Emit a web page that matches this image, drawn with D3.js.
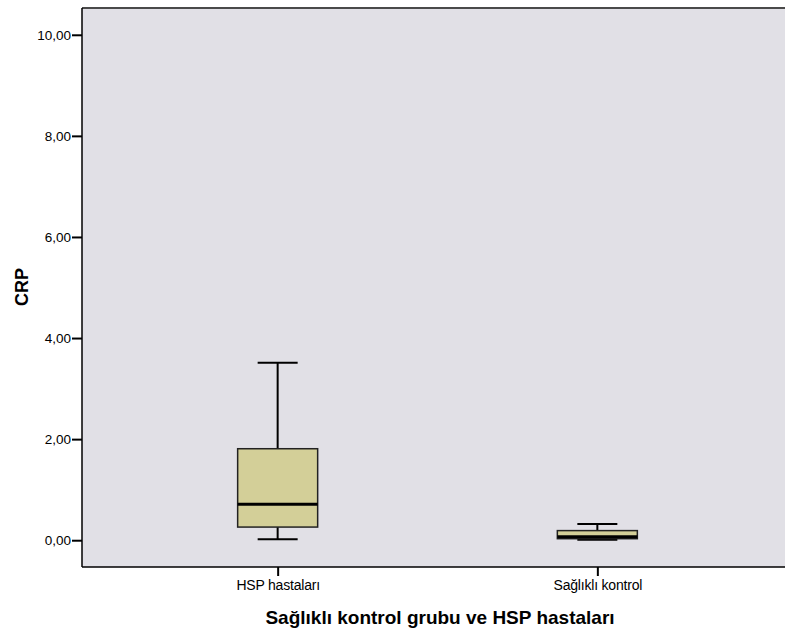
<!DOCTYPE html>
<html>
<head>
<meta charset="utf-8">
<script src="https://cdn.jsdelivr.net/npm/d3@7"></script>
<style>
  html, body { margin: 0; background: #fff; overflow: hidden; }
  svg { display: block; font-family: "Liberation Sans", Arial, sans-serif; }
</style>
</head>
<body>
<div id="chart"></div>
<script>
// groups and their box summaries
const groups = ['HSP hastaları', 'Sağlıklı kontrol'];
const whiskerLow = [0.02, 0.01];
const q1 = [0.26, 0.03];
const median = [0.71, 0.07];
const q3 = [1.81, 0.19];
const whiskerHigh = [3.51, 0.32];
const yTicks = [0, 2, 4, 6, 8, 10];

const width = 785;
const height = 635;
const margin = { top: 8, right: -8, bottom: 68, left: 82 };

const svg = d3.select('#chart').append('svg')
  .attr('width', width)
  .attr('height', height);

const x = d3.scalePoint()
  .domain(groups)
  .range([margin.left, width - margin.right])
  .padding(0.612);

const y = d3.scaleLinear()
  .domain([-0.53, 10.53])
  .range([height - margin.bottom, margin.top]);

const boxes = groups.map((g, i) => ({
  name: g, lo: whiskerLow[i], q1: q1[i], med: median[i], q3: q3[i], hi: whiskerHigh[i],
}));

// plot background, runs off the right edge like the original
svg.append('rect')
  .attr('x', margin.left)
  .attr('y', margin.top)
  .attr('width', width - margin.left)
  .attr('height', height - margin.bottom - margin.top)
  .attr('fill', '#e1e0e6');

// top frame line
svg.append('line')
  .attr('x1', margin.left).attr('x2', width)
  .attr('y1', margin.top).attr('y2', margin.top)
  .attr('stroke', '#4a4a4a')
  .attr('stroke-width', 2);

const boxW = 80;
const capW = 40;

let g = svg.append('g').selectAll('g')
  .data(boxes)
  .enter().append('g');

// whisker stems
g.append('line')
  .attr('x1', d => x(d.name)).attr('x2', d => x(d.name))
  .attr('y1', d => y(d.hi)).attr('y2', d => y(d.q3))
  .attr('stroke', '#000').attr('stroke-width', 2);
g.append('line')
  .attr('x1', d => x(d.name)).attr('x2', d => x(d.name))
  .attr('y1', d => y(d.q1)).attr('y2', d => y(d.lo))
  .attr('stroke', '#000').attr('stroke-width', 2);

// caps
g.append('line')
  .attr('x1', d => x(d.name) - capW / 2).attr('x2', d => x(d.name) + capW / 2)
  .attr('y1', d => y(d.hi)).attr('y2', d => y(d.hi))
  .attr('stroke', '#000').attr('stroke-width', 2);
g.append('line')
  .attr('x1', d => x(d.name) - capW / 2).attr('x2', d => x(d.name) + capW / 2)
  .attr('y1', d => y(d.lo)).attr('y2', d => y(d.lo))
  .attr('stroke', '#000').attr('stroke-width', 2);

// boxes
g.append('rect')
  .attr('x', d => x(d.name) - boxW / 2)
  .attr('y', d => y(d.q3))
  .attr('width', boxW)
  .attr('height', d => y(d.q1) - y(d.q3))
  .attr('fill', '#d3cf98')
  .attr('stroke', '#222')
  .attr('stroke-width', 1.5);

// median
g.append('line')
  .attr('x1', d => x(d.name) - boxW / 2).attr('x2', d => x(d.name) + boxW / 2)
  .attr('y1', d => y(d.med)).attr('y2', d => y(d.med))
  .attr('stroke', '#000').attr('stroke-width', 3);

// axes
const yAxis = svg.append('g')
  .attr('transform', `translate(${margin.left},0)`)
  .call(d3.axisLeft(y).tickValues(yTicks).tickSize(10).tickPadding(1)
    .tickFormat(d => d3.format('.2f')(d).replace('.', ',')));
yAxis.select('.domain').attr('stroke', '#000').attr('stroke-width', 1.5)
  .attr('d', `M0,${margin.top}V${height - margin.bottom}`);
yAxis.selectAll('.tick line').attr('stroke', '#000').attr('stroke-width', 2);
yAxis.selectAll('.tick text').attr('font-size', 13.5).attr('fill', '#000')
  .attr('font-family', '"Liberation Sans", Arial, sans-serif');

const xAxis = svg.append('g')
  .attr('transform', `translate(0,${height - margin.bottom})`)
  .call(d3.axisBottom(x).tickSize(9).tickPadding(4));
xAxis.select('.domain').attr('stroke', '#000').attr('stroke-width', 1.5)
  .attr('d', `M${margin.left},0H${width}`);
xAxis.selectAll('.tick line').attr('stroke', '#000').attr('stroke-width', 2);
xAxis.selectAll('.tick text').attr('font-size', 14).attr('fill', '#000')
  .attr('letter-spacing', -0.2)
  .attr('font-family', '"Liberation Sans", Arial, sans-serif');

// axis titles
svg.append('text')
  .attr('transform', `translate(28,287) rotate(-90)`)
  .attr('text-anchor', 'middle')
  .attr('font-size', 18)
  .attr('font-weight', 'bold')
  .text('CRP');

svg.append('text')
  .attr('x', 440)
  .attr('y', 624)
  .attr('text-anchor', 'middle')
  .attr('font-size', 19)
  .attr('font-weight', 'bold')
  .text('Sağlıklı kontrol grubu ve HSP hastaları');
</script>
</body>
</html>
